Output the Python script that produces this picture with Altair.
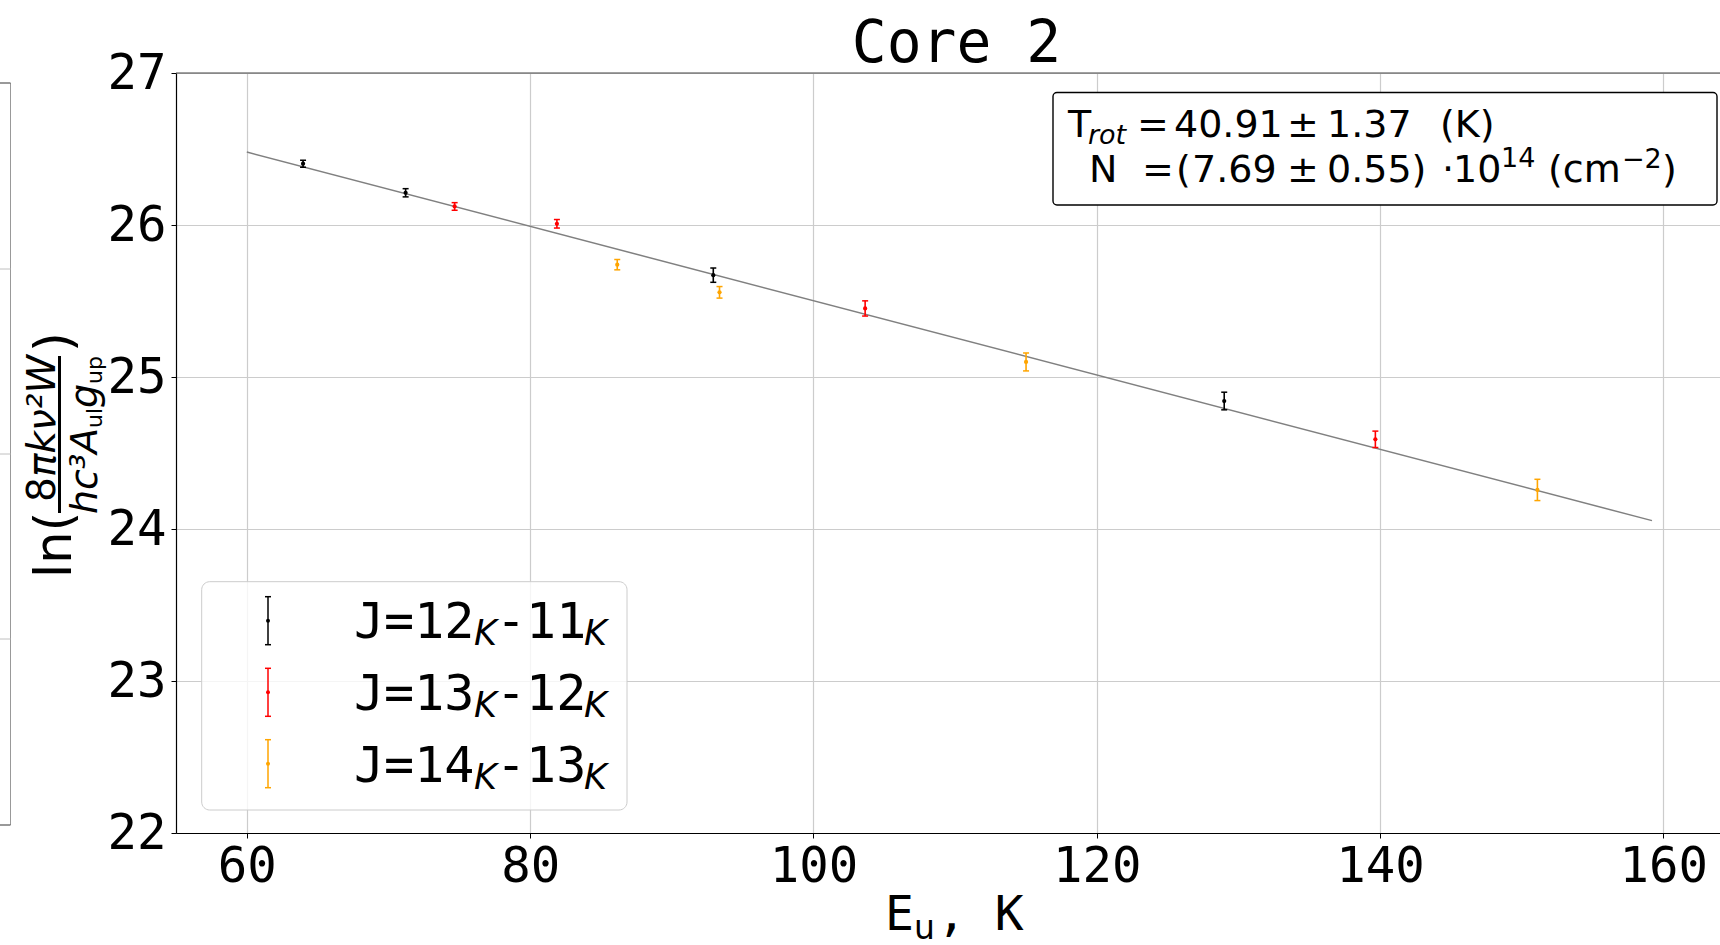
import altair as alt
import pandas as pd

# ---------------- data ----------------
series_names = ["J=12-11", "J=13-12", "J=14-13"]
series_colors = ["black", "red", "orange"]

E_12 = [63.97, 71.21, 92.93, 129.0]
ln_12 = [26.403, 26.212, 25.670, 24.842]
err_12 = [0.023, 0.027, 0.047, 0.058]

E_13 = [74.67, 81.89, 103.65, 139.67]
ln_13 = [26.122, 26.008, 25.451, 24.590]
err_13 = [0.025, 0.028, 0.050, 0.054]

E_14 = [86.15, 93.37, 115.01, 151.11]
ln_14 = [25.739, 25.557, 25.099, 24.257]
err_14 = [0.034, 0.038, 0.059, 0.070]

fit_E = [60.0, 159.2]
fit_ln = [26.48, 24.055]

x_ticks = [60, 80, 100, 120, 140, 160]
y_ticks = [22, 23, 24, 25, 26, 27]

# ---------------- tables ----------------
rows = []
for name, Es, ls, es in zip(series_names, [E_12, E_13, E_14], [ln_12, ln_13, ln_14], [err_12, err_13, err_14]):
    for e, l, er in zip(Es, ls, es):
        rows.append({"series": name, "E": e, "ln": l, "lo": l - er, "hi": l + er})
df = pd.DataFrame(rows)
fit_df = pd.DataFrame({"E": fit_E, "ln": fit_ln})

MONO = "DejaVu Sans Mono"
SANS = "DejaVu Sans"
OX, OY = 176, 73          # plot origin in the page
W, H = 1544, 760          # plot area

xs = alt.Scale(domain=[55, 164], nice=False, zero=False)
ys = alt.Scale(domain=[22, 27], nice=False, zero=False)
cs = alt.Scale(domain=series_names, range=series_colors)

x_axis = alt.Axis(values=x_ticks, format="d", labelFont=MONO, labelFontSize=49, labelColor="black",
                  tickColor="black", tickSize=5, tickWidth=1, domainColor="black", domainWidth=1.2,
                  grid=True, gridColor="#cccccc", gridWidth=1.2, labelPadding=4, title=None,
                  labelFlush=False, labelOverlap=False)
y_axis = alt.Axis(values=y_ticks, format="d", labelFont=MONO, labelFontSize=49, labelColor="black",
                  tickColor="black", tickSize=5, tickWidth=1, domainColor="black", domainWidth=1.2,
                  grid=True, gridColor="#cccccc", gridWidth=1.2, labelPadding=5, title=None,
                  labelFlush=False, labelOverlap=False)

one = pd.DataFrame({"t": [""]})


def txt(s, X, Y, size, font=SANS, style="normal", angle=0, align="left", color="black"):
    return alt.Chart(pd.DataFrame({"t": [s]})).mark_text(
        font=font, fontSize=size, fontStyle=style, angle=angle, align=align,
        baseline="alphabetic", color=color
    ).encode(x=alt.value(X - OX), y=alt.value(Y - OY), text="t:N")


def hrule(X1, X2, Y, color, width):
    return alt.Chart(one).mark_rule(color=color, strokeWidth=width).encode(
        x=alt.value(X1 - OX), x2=alt.value(X2 - OX), y=alt.value(Y - OY))


def vrule(X, Y1, Y2, color, width):
    return alt.Chart(one).mark_rule(color=color, strokeWidth=width).encode(
        x=alt.value(X - OX), y=alt.value(Y1 - OY), y2=alt.value(Y2 - OY))


# ---------------- data layers ----------------
fit = alt.Chart(fit_df).mark_line(color="#808080", strokeWidth=1.5).encode(
    x=alt.X("E:Q", scale=xs, axis=x_axis), y=alt.Y("ln:Q", scale=ys, axis=y_axis))

bars = alt.Chart(df).mark_rule(strokeWidth=1.6).encode(
    x=alt.X("E:Q", scale=xs, axis=x_axis), y=alt.Y("lo:Q", scale=ys, axis=y_axis), y2="hi:Q",
    color=alt.Color("series:N", scale=cs, legend=None))
cap_lo = alt.Chart(df).mark_rule(strokeWidth=1.5, xOffset=-3, x2Offset=3).encode(
    x=alt.X("E:Q", scale=xs), x2="E:Q", y=alt.Y("lo:Q", scale=ys),
    color=alt.Color("series:N", scale=cs, legend=None))
cap_hi = alt.Chart(df).mark_rule(strokeWidth=1.5, xOffset=-3, x2Offset=3).encode(
    x=alt.X("E:Q", scale=xs), x2="E:Q", y=alt.Y("hi:Q", scale=ys),
    color=alt.Color("series:N", scale=cs, legend=None))
pts = alt.Chart(df).mark_circle(size=18, opacity=1).encode(
    x=alt.X("E:Q", scale=xs), y=alt.Y("ln:Q", scale=ys),
    color=alt.Color("series:N", scale=cs, legend=None))

layers = [fit, bars, cap_lo, cap_hi, pts]

# top spine
layers.append(hrule(OX, OX + W, OY, "#444444", 1.2))

# remnant of neighbouring panel at the left edge
layers.append(vrule(10.5, 83, 825, "#999999", 1))
for yy in [269, 454, 639]:
    layers.append(hrule(0, 10.5, yy, "#c0c0c0", 1))
for yy in [83, 825]:
    layers.append(hrule(0, 10.5, yy, "#555555", 1.2))

# ---------------- title ----------------
layers.append(txt("Core 2", 956.5, 61.7, 58, font=MONO, align="center"))

# ---------------- x axis title  E_u, K ----------------
layers.append(txt("E", 885, 930, 48, font=MONO))
layers.append(txt("u", 914, 939, 33, font=SANS))
layers.append(txt(", K", 937, 930, 48, font=MONO))

# ---------------- y axis title ln(8πkν²W / hc³A_ul g_up) ----------------
layers.append(txt("ln(", 71, 578, 51, angle=270))
layers.append(txt("8", 55, 502, 39, angle=270))
layers.append(txt("πkν²W", 55, 477, 39, style="italic", angle=270))
layers.append(vrule(59.5, 356, 513, "black", 3))
layers.append(txt("hc³A", 97, 514, 38, style="italic", angle=270))
layers.append(txt("ul", 102, 428, 22, angle=270))
layers.append(txt("g", 97, 408, 38, style="italic", angle=270))
layers.append(txt("up", 102, 384, 22, angle=270))
layers.append(txt(")", 71, 352, 51, angle=270))

# ---------------- fit result box ----------------
box = alt.Chart(one).mark_rect(fill="white", stroke="black", strokeWidth=1.4, cornerRadius=4).encode(
    x=alt.value(1053 - OX), x2=alt.value(1717 - OX), y=alt.value(92.5 - OY), y2=alt.value(205 - OY))
layers.append(box)
b1, b2 = 136.7, 181.7
layers += [
    txt("T", 1068, b1, 38),
    txt("rot", 1088, b1 + 7, 27, style="italic"),
    txt("=", 1137, b1, 38),
    txt("40.91", 1174, b1, 38),
    txt("±", 1287, b1, 38),
    txt("1.37", 1327, b1, 38),
    txt("(K)", 1440, b1, 38),
    txt("N", 1089, b2, 38),
    txt("=", 1142, b2, 38),
    txt("(", 1176, b2, 38),
    txt("7.69", 1192, b2, 38),
    txt("±", 1287, b2, 38),
    txt("0.55)", 1327, b2, 38),
    txt("·", 1442, b2, 38),
    txt("10", 1453, b2, 38),
    txt("14", 1501, b2 - 15, 27),
    txt("(cm", 1548, b2, 38),
    txt("−2", 1622, b2 - 14, 27),
    txt(")", 1662, b2, 38),
]

# ---------------- legend ----------------
leg_box = alt.Chart(one).mark_rect(fill="white", fillOpacity=0.8, stroke="#cccccc", strokeWidth=1,
                                   cornerRadius=8).encode(
    x=alt.value(201.7 - OX), x2=alt.value(627 - OX), y=alt.value(581.7 - OY), y2=alt.value(810 - OY))
layers.append(leg_box)
leg_centres = [620.7, 692.3, 763.7]
leg_base = [638.3, 710.0, 781.7]
leg_parts = [("J=12", "-11"), ("J=13", "-12"), ("J=14", "-13")]
SX = 268
for col, cy, by, (p1, p2) in zip(series_colors, leg_centres, leg_base, leg_parts):
    layers.append(vrule(SX, cy - 24, cy + 24, col, 1.5))
    layers.append(hrule(SX - 3, SX + 3, cy - 24, col, 1.5))
    layers.append(hrule(SX - 3, SX + 3, cy + 24, col, 1.5))
    layers.append(alt.Chart(one).mark_circle(size=16, opacity=1, color=col).encode(
        x=alt.value(SX - OX), y=alt.value(cy - OY)))
    layers.append(txt(p1, 354, by, 50, font=MONO))
    layers.append(txt("K", 474, by + 7, 35, style="italic"))
    layers.append(txt(p2, 496, by, 50, font=MONO))
    layers.append(txt("K", 584, by + 7, 35, style="italic"))

chart = alt.layer(*layers).properties(
    width=W, height=H,
    padding={"left": OX, "top": OY, "right": 0, "bottom": 945 - OY - H},
    autosize=alt.AutoSizeParams(type="none"),
    background="white",
).configure_view(stroke=None)

chart.save("out.html", embed_options={"renderer": "svg", "actions": False})
